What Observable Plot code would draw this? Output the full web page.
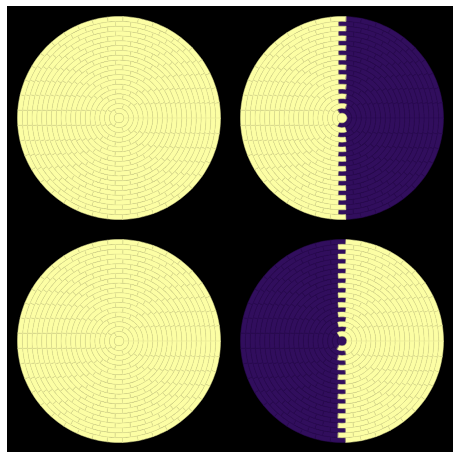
<!DOCTYPE html>
<html>
<head>
<meta charset="utf-8">
<script src="https://cdn.jsdelivr.net/npm/d3@7"></script>
<script src="https://cdn.jsdelivr.net/npm/@observablehq/plot@0.6"></script>
<style>
  html, body { margin: 0; padding: 0; background: #ffffff; }
  #fig {
    position: absolute; left: 7px; top: 6px; width: 446px; height: 446px;
    background: #000000; display: grid;
    grid-template-columns: 223px 223px; grid-template-rows: 223px 223px;
  }
  #fig svg { display: block; }
</style>
</head>
<body>
<div id="fig"></div>
<script>
// Panels (row-major) and the value shown in the left / right half of each disk
const panels = ["top-left", "top-right", "bottom-left", "bottom-right"];
const leftValues  = [1, 1, 1, 0];
const rightValues = [1, 0, 1, 1];
// Number of cells in each ring, from centre outwards (equal-area cells)
const ringCellCounts = [1, 3, 5, 7, 9, 11, 13, 15, 17, 19, 21, 23, 25, 27, 29, 31, 33, 35, 37, 39, 41];
const colorDomain = [0, 1];
const colorRange = ["#310e5d", "#fcfea4"];
const edgeColors = ["#2a0b52", "#e4e596"];

const nRings = ringCellCounts.length;
function buildCells(pi) {
  const rows = [];
  let id = 0;
  ringCellCounts.forEach((n, i) => {
    const r0 = i / nRings, r1 = (i + 1) / nRings;
    for (let k = 0; k < n; k++) {
      const a0 = 2 * Math.PI * k / n, a1 = 2 * Math.PI * (k + 1) / n;
      const ac = (a0 + a1) / 2;
      const v = Math.cos(ac) < 0 ? leftValues[pi] : rightValues[pi];
      const seg = Math.max(4, Math.ceil(64 / n));
      for (let s = 0; s <= seg; s++) {
        const a = a0 + (a1 - a0) * s / seg;
        rows.push({id, x: r1 * Math.cos(a), y: r1 * Math.sin(a), v});
      }
      if (r0 > 0) {
        for (let s = seg; s >= 0; s--) {
          const a = a0 + (a1 - a0) * s / seg;
          rows.push({id, x: r0 * Math.cos(a), y: r0 * Math.sin(a), v});
        }
      }
      id++;
    }
  });
  return rows;
}

const D = 111.5 / 101.5;
const fig = document.getElementById("fig");
panels.forEach((p, pi) => {
  const cells = buildCells(pi);
  const chart = Plot.plot({
    width: 223, height: 223, margin: 0,
    style: {background: "transparent"},
    x: {domain: [-D, D], axis: null},
    y: {domain: [-D, D], axis: null},
    color: {domain: colorDomain, range: colorRange},
    marks: colorDomain.map((val) =>
      Plot.line(cells.filter((d) => d.v === val), {
        x: "x", y: "y", z: "id", fill: "v",
        stroke: edgeColors[val], strokeWidth: 0.5,
        curve: "linear-closed"
      })
    )
  });
  fig.appendChild(chart);
});
</script>
</body>
</html>
